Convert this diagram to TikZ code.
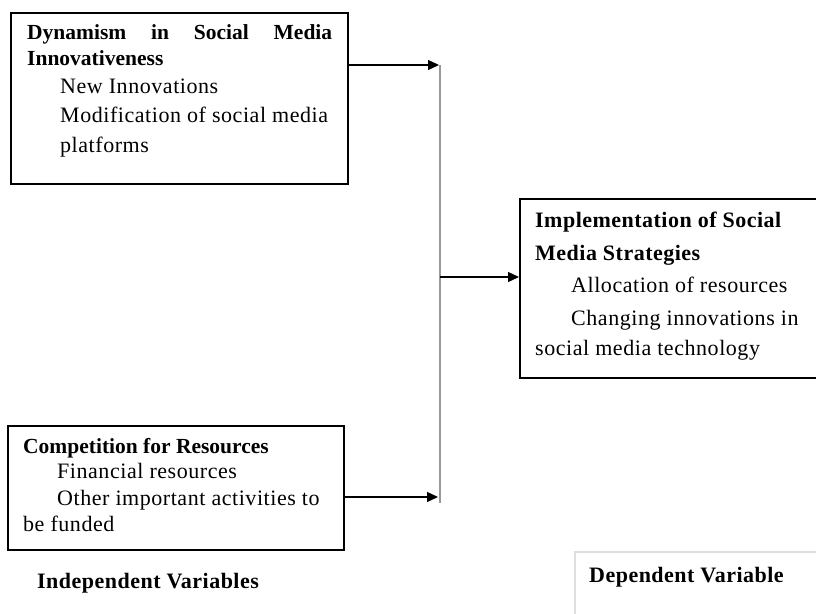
\documentclass[tikz,border=0pt]{standalone}
\usepackage{fontspec}
\setmainfont{Liberation Serif}
\usetikzlibrary{arrows.meta}
\begin{document}
\begin{tikzpicture}[x=1pt,y=-1pt,
  box/.style={draw=black,line width=1.7pt,anchor=north west,inner sep=0pt},
  txt/.style={anchor=base west,inner sep=0pt,font=\fontsize{22}{30}\selectfont\addfontfeatures{LetterSpace=2.5}},
  ttl/.style={anchor=base west,inner sep=0pt,font=\fontsize{21.5}{30}\selectfont\bfseries},
  ttlsp/.style={anchor=base west,inner sep=0pt,font=\fontsize{22}{30}\selectfont\bfseries\addfontfeatures{LetterSpace=2.2}},
  conn/.style={draw=black,line width=1.3pt,-{Triangle[length=11pt,width=10pt]}},
  bus/.style={draw=black!40,line width=2pt}]
\useasboundingbox (0,0) rectangle (816,613);
% boxes
\node[box,minimum width=337pt,minimum height=171pt] (dyn) at (10,12) {};
\node[box,minimum width=310pt,minimum height=179pt] (imp) at (519,198) {};
\node[box,minimum width=336pt,minimum height=124pt] (comp) at (7,425) {};
\node[draw=black!13,line width=1.5pt,anchor=north west,inner sep=0pt,minimum width=260pt,minimum height=80pt] (depbox) at (574,551) {};
% box 1 text
\node[ttl] (d1) at (27,39) {\hbox to 305pt{Dynamism\hfill in\hfill Social\hfill Media}};
\node[ttl] (d2) at (27,65) {Innovativeness};
\node[txt] (d3) at (60,93) {New Innovations};
\node[txt] (d4) at (60,122) {Modification of social media};
\node[txt] (d5) at (60,152) {platforms};
% box 2 text
\node[ttlsp] (i1) at (535,227) {Implementation of Social};
\node[ttlsp] (i2) at (535,260) {Media Strategies};
\node[txt] (i3) at (571,292) {Allocation of resources};
\node[txt] (i4) at (571,325) {Changing innovations in};
\node[txt] (i5) at (535,355) {social media technology};
% box 3 text
\node[ttl] (c1) at (23,453) {Competition for Resources};
\node[txt] (c2) at (57,478) {Financial resources};
\node[txt] (c3) at (57,505) {Other important activities to};
\node[txt] (c4) at (23,531) {be funded};
% labels
\node[ttlsp] (indep) at (37,588) {Independent Variables};
\node[ttlsp] (dep) at (589,582) {Dependent Variable};
% connectors
\coordinate (bt) at (440,65);
\coordinate (bb) at (440,503);
\coordinate (a1) at (439,65);
\coordinate (b2) at (440,277);
\coordinate (a3) at (438,497);
\draw[bus] (bt) -- (bb);
\draw[conn] (dyn.east |- a1) -- (a1);
\draw[conn] (b2) -- (imp.west |- b2);
\draw[conn] (comp.east |- a3) -- (a3);
\end{tikzpicture}
\end{document}
